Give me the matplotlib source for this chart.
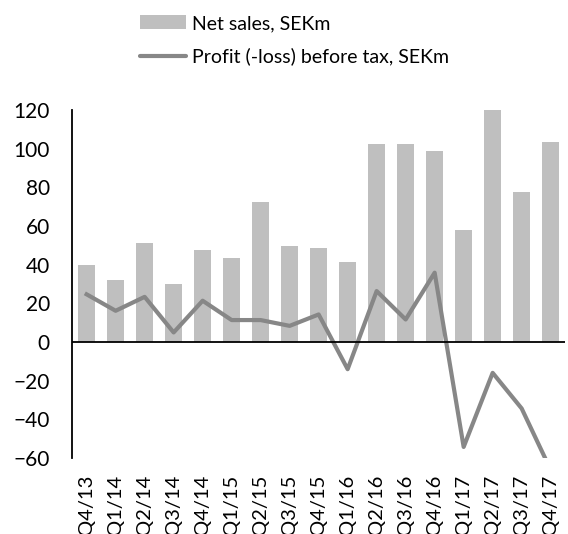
import matplotlib

matplotlib.use("Agg")
import matplotlib.pyplot as plt
from matplotlib.lines import Line2D
from matplotlib.patches import Patch
import numpy as np

quarters = [
    "Q4/13", "Q1/14", "Q2/14", "Q3/14", "Q4/14", "Q1/15", "Q2/15", "Q3/15", "Q4/15",
    "Q1/16", "Q2/16", "Q3/16", "Q4/16", "Q1/17", "Q2/17", "Q3/17", "Q4/17",
]
net_sales = [40, 32, 51.5, 30, 47.5, 43.3, 72.3, 49.5, 48.5, 41.2, 102.3, 102.3, 99, 57.8, 120, 77.4, 103.3]
profit_before_tax = [24.7, 16.2, 23.4, 5, 21.4, 11.4, 11.4, 8.4, 14.3, -14, 26.4, 11.7, 35.9, -54.2, -15.9, -34.3, -66]
y_ticks = [-60, -40, -20, 0, 20, 40, 60, 80, 100, 120]

BAR_COLOR = "#bfbfbf"
LINE_COLOR = "#878787"

plt.rcParams["font.family"] = ["Lato", "DejaVu Sans"]

fig = plt.figure(figsize=(5.68, 5.34), dpi=100)
ax = fig.add_axes([0.127, 0.142, 0.868, 0.652])

x = np.arange(len(quarters))
ax.bar(x, net_sales, width=0.57, color=BAR_COLOR, zorder=2)
ax.plot(x, profit_before_tax, color=LINE_COLOR, linewidth=3.0, zorder=3)
ax.axhline(0, color="black", linewidth=1.3, zorder=4)

ax.set_xlim(-0.5, len(quarters) - 0.5)
ax.set_ylim(-60, 120)
ax.set_yticks(y_ticks)
ax.set_xticks(x)
ax.set_xticklabels(quarters, rotation=90, fontsize=14.5)
ax.tick_params(axis="x", length=0, pad=12)
ax.tick_params(axis="y", length=0, pad=16, labelsize=15)

for side in ["top", "right", "bottom"]:
    ax.spines[side].set_visible(False)
ax.spines["left"].set_color("black")
ax.spines["left"].set_linewidth(1.3)

handles = [
    Patch(facecolor=BAR_COLOR, edgecolor="none"),
    Line2D([0], [0], color=LINE_COLOR, linewidth=3.0, solid_capstyle="round"),
]
labels = ["Net sales, SEKm", "Profit (-loss) before tax, SEKm"]
fig.legend(
    handles, labels, loc="upper left", bbox_to_anchor=(0.246, 0.972),
    frameon=False, fontsize=14, handlelength=2.4, handleheight=0.7,
    handletextpad=0.3, labelspacing=0.8, borderpad=0, borderaxespad=0,
)

fig.savefig("out.png", dpi=100)
